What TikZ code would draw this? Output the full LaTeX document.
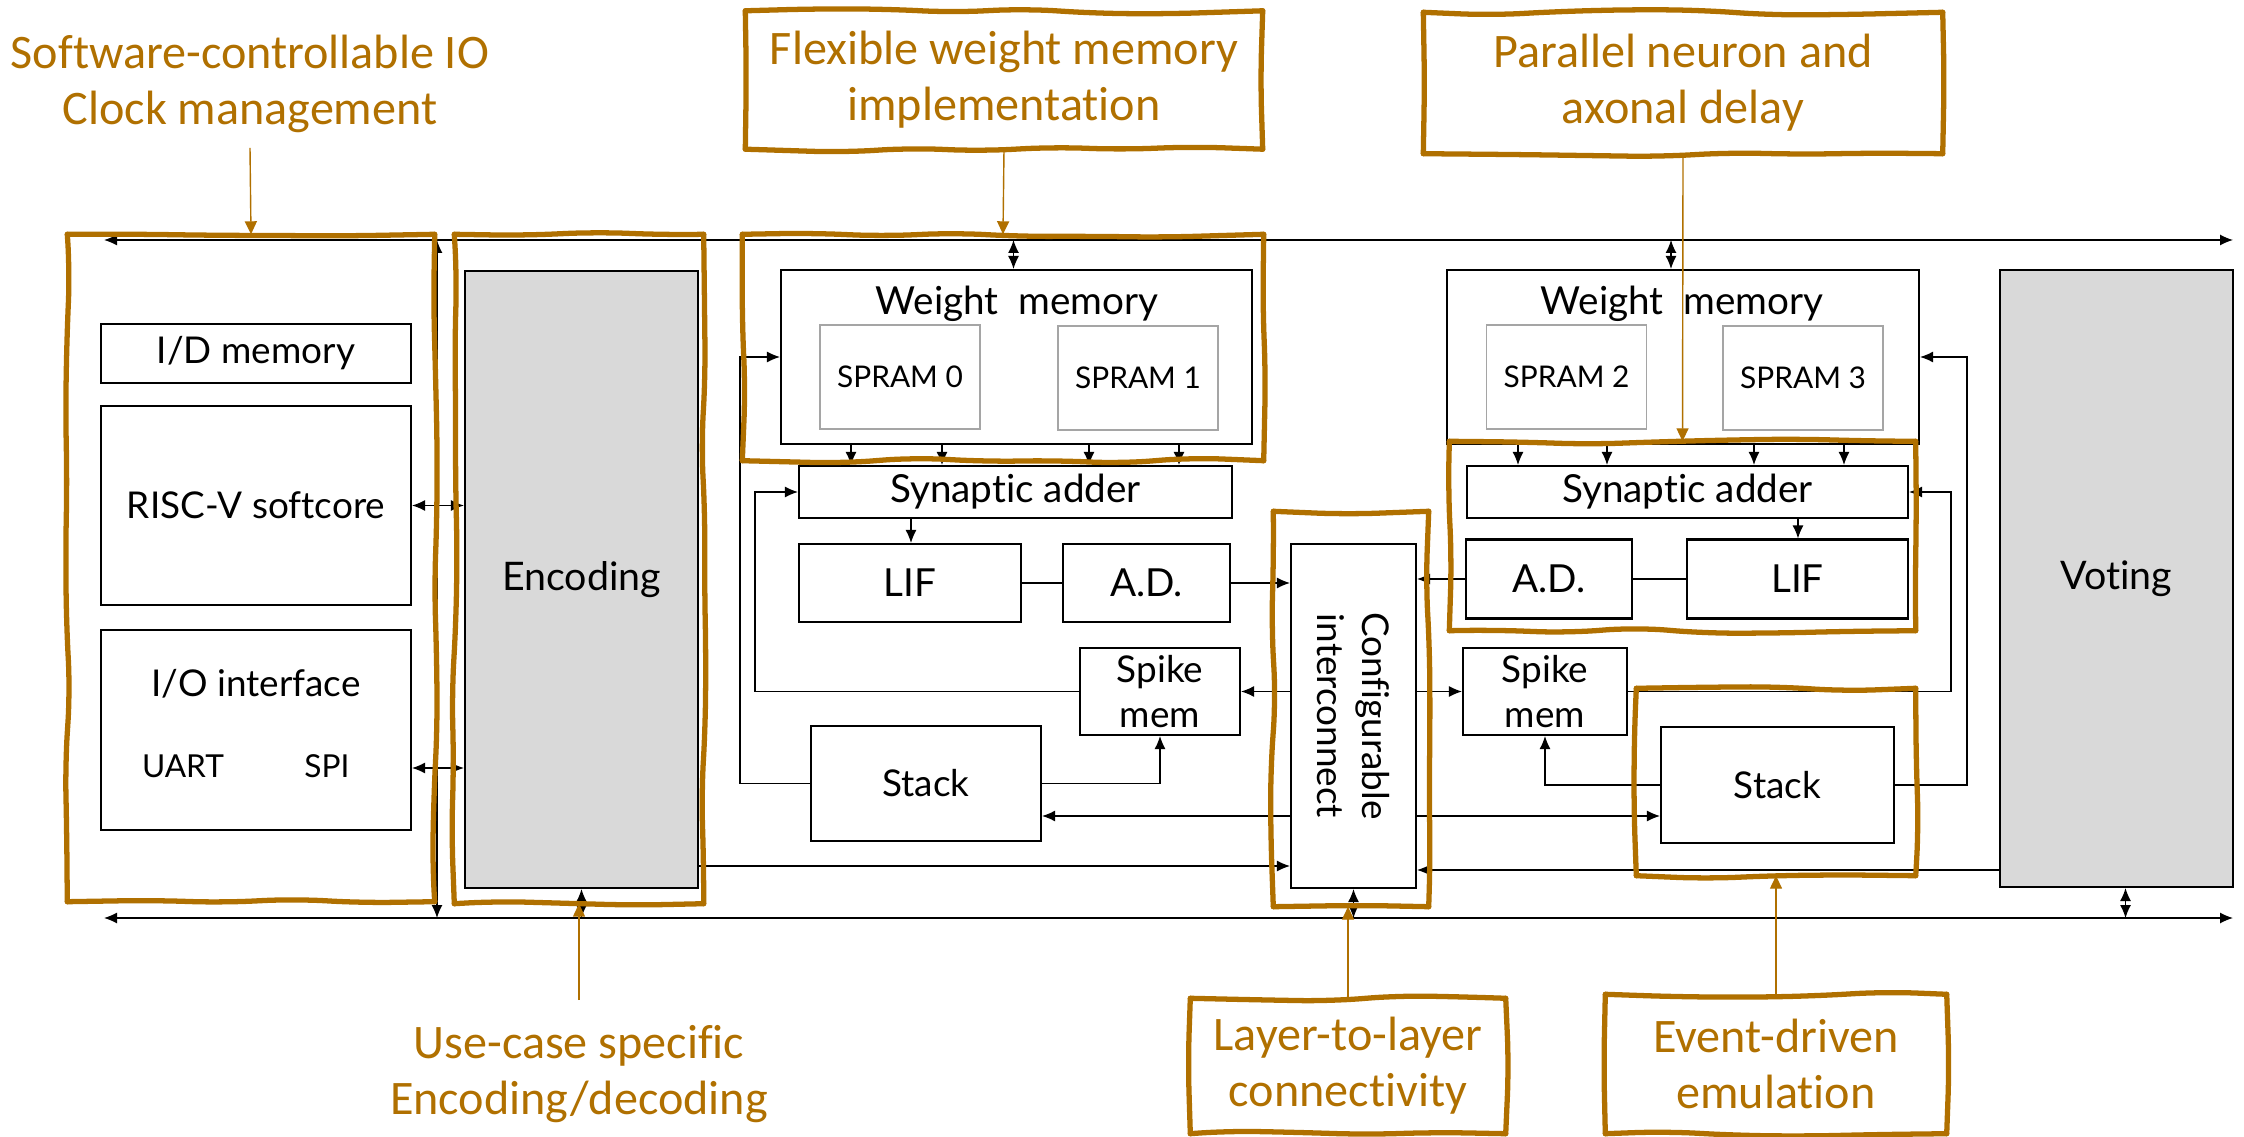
\documentclass[tikz,border=0pt]{standalone}
\usepackage{fontspec}
\setmainfont{Lato}[Ligatures={NoCommon,NoRare}]
\newfontfamily\notefont{Carlito}[Ligatures={NoCommon,NoRare}]
\usetikzlibrary{arrows.meta,decorations.pathmorphing}

\definecolor{ochre}{RGB}{176,112,0}
\definecolor{blockgray}{RGB}{217,217,217}
\definecolor{ramgray}{RGB}{165,165,165}

\tikzset{
  blk/.style={draw, line width=0.6pt, inner sep=0pt, align=center, font=\fontsize{10.5}{13}\selectfont},
  ram/.style={draw=ramgray, line width=0.4pt, minimum width=16mm, minimum height=10.4mm, font=\fontsize{8.5}{10}\selectfont},
  sig/.style={line width=0.35pt, -{Latex[length=1.3mm,width=1.1mm]}},
  bisig/.style={line width=0.35pt, {Latex[length=1.3mm,width=1.1mm]}-{Latex[length=1.3mm,width=1.1mm]}},
  wire/.style={line width=0.35pt},
  hlside/.style={draw=ochre, line width=1.5pt, line cap=round, decorate,
    decoration={random steps, segment length=7mm, amplitude=0.9pt}, rounded corners=3mm},
  hl/.style={append after command={
    (\tikzlastnode.north west) edge[hlside] (\tikzlastnode.north east)
    (\tikzlastnode.north east) edge[hlside] (\tikzlastnode.south east)
    (\tikzlastnode.south east) edge[hlside] (\tikzlastnode.south west)
    (\tikzlastnode.south west) edge[hlside] (\tikzlastnode.north west)}},
  note/.style={text=ochre, align=center, font=\notefont\fontsize{13.7}{16}\selectfont},
  notelink/.style={draw=ochre, line width=0.4pt, -{Triangle[length=1.3mm,width=1.2mm]}},
}

\begin{document}
\begin{tikzpicture}[x=0.1mm, y=-0.1mm]
  \pgfmathsetseed{11}
  \useasboundingbox (0,0) rectangle (2244,1137);

  % Control side
  \node[blk, minimum width=31mm, minimum height=5.9mm] (idmem) at (256,353.5) {I/D memory};
  \node[blk, minimum width=31mm, minimum height=19.9mm] (risc) at (256,505.5) {RISC-V softcore};
  \node[blk, minimum width=31mm, minimum height=20mm] (io) at (256,730) {};
  \node[font=\fontsize{10.5}{13}\selectfont] (iot) at (256,684) {I/O interface};
  \node[font=\fontsize{9}{11}\selectfont] (uart) at (183,766) {UART};
  \node[font=\fontsize{9}{11}\selectfont] (spi) at (327,766) {SPI};

  % Encoding and voting
  \node[blk, fill=blockgray, minimum width=23.3mm, minimum height=61.7mm, font=\fontsize{11.2}{13}\selectfont] (enc) at (581.5,579.5) {Encoding};
  \node[blk, fill=blockgray, minimum width=23.3mm, minimum height=61.7mm, font=\fontsize{11.2}{13}\selectfont] (vote) at (2116.5,578.5) {Voting};

  % Left core
  \node[blk, minimum width=47.1mm, minimum height=17.4mm] (wmL) at (1016.5,357) {};
  \node[blk, draw=none, font=\fontsize{11}{13}\selectfont] (wmLt) at (1017,304) {Weight\ \ memory};
  \node[ram] (ram0) at (900,377) {SPRAM 0};
  \node[ram] (ram1) at (1138,378) {SPRAM 1};
  \node[blk, minimum width=43.3mm, minimum height=5.2mm, font=\fontsize{11}{13}\selectfont] (addL) at (1015.5,492) {Synaptic adder};
  \node[blk, minimum width=22.2mm, minimum height=7.8mm, font=\fontsize{11}{13}\selectfont] (lifL) at (910,583) {LIF};
  \node[blk, minimum width=16.7mm, minimum height=7.8mm, font=\fontsize{11}{13}\selectfont] (adL) at (1146.5,583) {A.D.};
  \node[blk, minimum width=16mm, minimum height=8.7mm] (spkL) at (1160,691.5) {Spike\\mem};
  \node[blk, minimum width=23mm, minimum height=11.5mm] (stkL) at (926,783.5) {Stack};

  % Interconnect
  \node[blk, minimum width=12.5mm, minimum height=34.4mm] (ic) at (1353.5,716) {};
  \node[rotate=-90, align=center, font=\fontsize{10.5}{13}\selectfont] (ict) at (ic) {Configurable\\interconnect};

  % Right core
  \node[blk, minimum width=47.2mm, minimum height=17.4mm] (wmR) at (1683,357) {};
  \node[blk, draw=none, font=\fontsize{11}{13}\selectfont] (wmRt) at (1682,304) {Weight\ \ memory};
  \node[ram] (ram2) at (1566.5,377) {SPRAM 2};
  \node[ram] (ram3) at (1803,378) {SPRAM 3};
  \node[blk, minimum width=44.1mm, minimum height=5.2mm, font=\fontsize{11}{13}\selectfont] (addR) at (1687.5,492) {Synaptic adder};
  \node[blk, minimum width=16.6mm, minimum height=7.9mm, font=\fontsize{11}{13}\selectfont] (adR) at (1549,579) {A.D.};
  \node[blk, minimum width=22.1mm, minimum height=7.9mm, font=\fontsize{11}{13}\selectfont] (lifR) at (1797.5,579) {LIF};
  \node[blk, minimum width=16.4mm, minimum height=8.7mm] (spkR) at (1545,691.5) {Spike\\mem};
  \node[blk, minimum width=23.3mm, minimum height=11.6mm] (stkR) at (1777.5,785) {Stack};

  % Buses
  \coordinate (busTL) at (104,240);
  \coordinate (busTR) at (2233,240);
  \coordinate (busBL) at (104,918);
  \coordinate (busBR) at (2233,918);
  \coordinate (vTop) at (437,240);
  \coordinate (vBot) at (437,918);
  \draw[bisig] (busTL) -- (busTR);
  \draw[bisig] (busBL) -- (busBR);
  \draw[bisig] (vTop) -- (vBot);
  \draw[bisig] ([xshift=-0.3mm]wmL.north) -- ([xshift=-0.3mm]wmL.north |- busTL);
  \draw[bisig] ([xshift=-1.2mm]wmR.north) -- ([xshift=-1.2mm]wmR.north |- busTL);
  \draw[bisig] (enc.south) -- (enc.south |- busBL);
  \draw[bisig] (ic.south) -- (ic.south |- busBL);
  \draw[bisig] ([xshift=0.9mm]vote.south) -- ([xshift=0.9mm]vote.south |- busBL);

  % Rows and turning points
  \coordinate (ioRow) at (0,768);
  \coordinate (stkRow) at (0,816);
  \coordinate (encRow) at (0,866);
  \coordinate (voteRow) at (0,870);
  \coordinate (loopA) at (755,0);
  \coordinate (loopB) at (740,0);
  \coordinate (loopC) at (1951,0);
  \coordinate (loopD) at (1967,0);

  % Control to encoding
  \draw[bisig] (risc.east) -- (risc.east -| enc.west);
  \draw[bisig] (ioRow -| io.east) -- (ioRow -| enc.west);

  % Weight memory to adders
  \foreach \x in {851,942,1089,1179}
    \draw[sig] (\x,0 |- wmL.south) -- (\x,0 |- addL.north);
  \foreach \x in {1518,1607,1754,1844}
    \draw[sig] (\x,0 |- wmR.south) -- (\x,0 |- addR.north);
  \draw[sig] (911,0 |- addL.south) -- (911,0 |- lifL.north);
  \draw[sig] (1798,0 |- addR.south) -- (1798,0 |- lifR.north);
  \draw[wire] (lifL.east) -- (adL.west);
  \draw[wire] (adR.east) -- (lifR.west);

  % Interconnect links
  \draw[sig] (adL.east) -- (adL.east -| ic.west);
  \draw[sig] (adR.west) -- (adR.west -| ic.east);
  \draw[sig] (spkL.east -| ic.west) -- (spkL.east);
  \draw[sig] (spkR.west -| ic.east) -- (spkR.west);
  \draw[sig] (stkRow -| ic.west) -- (stkRow -| stkL.east);
  \draw[sig] (stkRow -| ic.east) -- (stkRow -| stkR.west);
  \draw[sig] (encRow -| enc.east) -- (encRow -| ic.west);
  \draw[sig] (voteRow -| vote.west) -- (voteRow -| ic.east);

  % Feedback loops
  \draw[sig] (spkL.west) -- (spkL.west -| loopA) |- (addL.west);
  \draw[sig] (stkL.west) -- (stkL.west -| loopB) |- (wmL.west);
  \draw[sig] (stkL.east) -| (spkL.south);
  \draw[sig] (spkR.east) -- (spkR.east -| loopC) |- (addR.east);
  \draw[sig] (stkR.east) -- (stkR.east -| loopD) |- (wmR.east);
  \draw[sig] (stkR.west) -| (spkR.south);

  % Highlights
  \node[hl, minimum width=36.6mm, minimum height=66.6mm] (hlLeft) at (251,568) {};
  \node[hl, minimum width=24.8mm, minimum height=66.8mm] (hlEnc) at (579,569) {};
  \node[hl, minimum width=52mm, minimum height=22.5mm] (hlWm) at (1003,347.5) {};
  \node[hl, minimum width=15.4mm, minimum height=39.4mm] (hlIc) at (1351,709) {};
  \node[hl, minimum width=46.5mm, minimum height=18.8mm] (hlNeu) at (1682.5,536) {};
  \node[hl, minimum width=27.8mm, minimum height=18.6mm] (hlStk) at (1776,782) {};

  % Notes
  \node[note] (noteSw) at (250,84) {Software-controllable IO\\Clock management};
  \node[note, hl, minimum width=51.6mm, minimum height=13.7mm] (noteFlex) at (1004,80) {Flexible weight memory\\implementation};
  \node[note, hl, minimum width=51.8mm, minimum height=14mm] (notePar) at (1683,83) {Parallel neuron and\\axonal delay};
  \node[note] (noteUse) at (579,1074) {Use-case specific\\Encoding/decoding};
  \node[note, hl, minimum width=31.4mm, minimum height=13.4mm] (noteLay) at (1348,1066) {Layer-to-layer\\connectivity};
  \node[note, hl, minimum width=34mm, minimum height=13.8mm] (noteEvt) at (1776,1064) {Event-driven\\emulation};

  \draw[notelink] (noteSw.south |- 0,148) -- (hlLeft.north);
  \draw[notelink] (noteFlex.south) -- (hlWm.north);
  \draw[notelink] (notePar.south) -- (hlNeu.north);
  \draw[notelink] (noteUse.north |- 0,1000) -- (hlEnc.south);
  \draw[notelink] (noteLay.north) -- (noteLay.north |- hlIc.south);
  \draw[notelink] (noteEvt.north) -- (hlStk.south);
\end{tikzpicture}
\end{document}
